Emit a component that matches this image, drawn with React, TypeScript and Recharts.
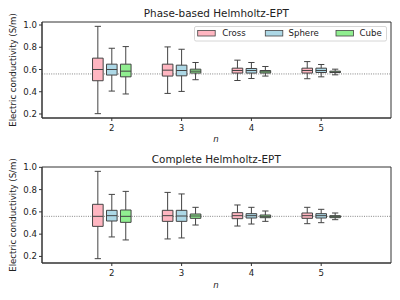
import React from 'react';
import { ComposedChart, XAxis, YAxis, Line, ReferenceArea, ReferenceLine } from 'recharts';

// ---- data ----
const nValues = [2, 3, 4, 5];
const groupNames = ['Cross', 'Sphere', 'Cube'];
const groupColors = ['#ffb6c1', '#add8e6', '#90ee90'];
const referenceValue = 0.56;
const yTicks = [0.2, 0.4, 0.6, 0.8, 1.0];

// [min, q1, median, q3, max] per n
const phaseCross = [[0.203, 0.499, 0.600, 0.702, 0.988], [0.385, 0.541, 0.594, 0.648, 0.803], [0.501, 0.568, 0.591, 0.612, 0.684], [0.517, 0.568, 0.591, 0.612, 0.671]];
const phaseSphere = [[0.406, 0.550, 0.600, 0.648, 0.791], [0.403, 0.543, 0.591, 0.639, 0.782], [0.519, 0.568, 0.591, 0.609, 0.663], [0.534, 0.573, 0.591, 0.612, 0.645]];
const phaseCube = [[0.380, 0.534, 0.585, 0.648, 0.806], [0.508, 0.568, 0.585, 0.603, 0.663], [0.541, 0.568, 0.579, 0.591, 0.627], [0.552, 0.573, 0.576, 0.585, 0.603]];

const completeCross = [[0.180, 0.470, 0.560, 0.668, 0.964], [0.357, 0.515, 0.566, 0.614, 0.775], [0.473, 0.539, 0.566, 0.593, 0.662], [0.494, 0.542, 0.566, 0.590, 0.641]];
const completeSphere = [[0.375, 0.518, 0.566, 0.614, 0.757], [0.366, 0.515, 0.563, 0.614, 0.761], [0.491, 0.545, 0.566, 0.584, 0.641], [0.503, 0.545, 0.566, 0.584, 0.623]];
const completeCube = [[0.348, 0.506, 0.560, 0.617, 0.784], [0.482, 0.542, 0.563, 0.581, 0.641], [0.515, 0.548, 0.560, 0.572, 0.608], [0.530, 0.548, 0.557, 0.566, 0.590]];

const titles = ['Phase-based Helmholtz-EPT', 'Complete Helmholtz-EPT'];
const yLabel = 'Electric conductivity (S/m)';
const xLabel = 'n';

// ---- style ----
const FONT = "'DejaVu Sans', sans-serif";
const FS = 8.6;
const TITLE_FS = 10.4;
const EDGE = '#444';
const SPINE = '#333';
const X_DOMAIN: [number, number] = [1, 6];
const offsets = [-0.2, 0, 0.2];
const halfBox = 0.076;
const halfCap = 0.045;

type Stats = number[][];

function BoxPanel({ stats, yDomain, marginTop, xAxisHeight }: { stats: Stats[]; yDomain: [number, number]; marginTop: number; xAxisHeight: number }) {
  const refData = [{ x: X_DOMAIN[0], y: referenceValue }, { x: X_DOMAIN[1], y: referenceValue }];
  const areas: React.ReactNode[] = [];
  const lines: React.ReactNode[] = [];
  stats.forEach((groupStats, gi) => {
    groupStats.forEach((s, ni) => {
      const cx = nValues[ni] + offsets[gi];
      const [lo, q1, med, q3, hi] = s;
      const k = `${gi}-${ni}`;
      lines.push(<ReferenceLine key={`wl${k}`} segment={[{ x: cx, y: lo }, { x: cx, y: q1 }]} stroke={EDGE} strokeWidth={1} zIndex={400} ifOverflow="visible" />);
      lines.push(<ReferenceLine key={`wh${k}`} segment={[{ x: cx, y: q3 }, { x: cx, y: hi }]} stroke={EDGE} strokeWidth={1} zIndex={400} ifOverflow="visible" />);
      lines.push(<ReferenceLine key={`cl${k}`} segment={[{ x: cx - halfCap, y: lo }, { x: cx + halfCap, y: lo }]} stroke={EDGE} strokeWidth={1} zIndex={400} ifOverflow="visible" />);
      lines.push(<ReferenceLine key={`ch${k}`} segment={[{ x: cx - halfCap, y: hi }, { x: cx + halfCap, y: hi }]} stroke={EDGE} strokeWidth={1} zIndex={400} ifOverflow="visible" />);
      areas.push(<ReferenceArea key={`b${k}`} x1={cx - halfBox} x2={cx + halfBox} y1={q1} y2={q3} fill={groupColors[gi]} fillOpacity={1} stroke={EDGE} strokeWidth={1} zIndex={100} ifOverflow="visible" />);
      lines.push(<ReferenceLine key={`m${k}`} segment={[{ x: cx - halfBox, y: med }, { x: cx + halfBox, y: med }]} stroke={EDGE} strokeWidth={1} zIndex={400} ifOverflow="visible" />);
    });
  });
  return (
    <ComposedChart width={400} height={150} data={refData} margin={{ top: marginTop, right: 9, left: 0, bottom: 0 }}>
      <XAxis dataKey="x" type="number" domain={X_DOMAIN} allowDataOverflow ticks={nValues} height={xAxisHeight}
        tick={{ fontSize: FS, fill: '#222', fontFamily: FONT }} tickSize={3} tickMargin={3.5}
        axisLine={{ stroke: SPINE }} tickLine={{ stroke: SPINE }} />
      <YAxis type="number" domain={yDomain} allowDataOverflow ticks={yTicks} width={42}
        tickFormatter={(v: number) => v.toFixed(1)}
        tick={{ fontSize: FS, fill: '#222', fontFamily: FONT }} tickSize={3} tickMargin={2}
        axisLine={{ stroke: SPINE }} tickLine={{ stroke: SPINE }} />
      <Line dataKey="y" stroke="#666" strokeWidth={0.8} strokeDasharray="1 1.3" dot={false} activeDot={false}
        isAnimationActive={false} zIndex={50} />
      {areas}
      {lines}
      <ReferenceArea x1={X_DOMAIN[0]} x2={X_DOMAIN[1]} y1={yDomain[0]} y2={yDomain[1]} fill="none" stroke={SPINE} strokeWidth={1} ifOverflow="visible" zIndex={500} />
    </ComposedChart>
  );
}

function LegendBox() {
  const items = [
    { patch: 197.7, text: 222.2 },
    { patch: 265.3, text: 288.5 },
    { patch: 336, text: 359.5 },
  ];
  return (
    <g>
      <rect x={194.5} y={26.5} width={192} height={14.5} rx={1.5} fill="#fff" fillOpacity={0.8} stroke="#ccc" strokeWidth={0.8} />
      {groupNames.map((name, i) => (
        <g key={name}>
          <rect x={items[i].patch} y={30.5} width={17.5} height={5.5} fill={groupColors[i]} stroke={EDGE} strokeWidth={0.8} />
          <text x={items[i].text} y={36.3} fontSize={FS} fontFamily={FONT} fill="#222">{name}</text>
        </g>
      ))}
    </g>
  );
}

export default function App() {
  return (
    <div style={{ position: 'absolute', left: 0, top: 0, width: 400, height: 300, background: '#fff' }}>
      <div style={{ position: 'absolute', left: 0, top: 0 }}>
        <BoxPanel stats={[phaseCross, phaseSphere, phaseCube]} yDomain={[0.164, 1.027]} marginTop={22} xAxisHeight={32} />
      </div>
      <div style={{ position: 'absolute', left: 0, top: 150 }}>
        <BoxPanel stats={[completeCross, completeSphere, completeCube]} yDomain={[0.141, 1.003]} marginTop={17} xAxisHeight={37} />
      </div>
      <svg width={400} height={300} style={{ position: 'absolute', left: 0, top: 0, pointerEvents: 'none' }}>
        <text x={216.3} y={16.9} textAnchor="middle" fontSize={TITLE_FS} fontFamily={FONT} fill="#222">{titles[0]}</text>
        <text x={216.3} y={162.6} textAnchor="middle" fontSize={TITLE_FS} fontFamily={FONT} fill="#222">{titles[1]}</text>
        <text transform="translate(16,70) rotate(-90)" textAnchor="middle" fontSize={FS} fontFamily={FONT} fill="#222">{yLabel}</text>
        <text transform="translate(16,215) rotate(-90)" textAnchor="middle" fontSize={FS} fontFamily={FONT} fill="#222">{yLabel}</text>
        <text x={216} y={141.5} textAnchor="middle" fontSize={FS} fontStyle="italic" fontFamily={FONT} fill="#222">{xLabel}</text>
        <text x={216} y={287.5} textAnchor="middle" fontSize={FS} fontStyle="italic" fontFamily={FONT} fill="#222">{xLabel}</text>
        <LegendBox />
      </svg>
    </div>
  );
}
